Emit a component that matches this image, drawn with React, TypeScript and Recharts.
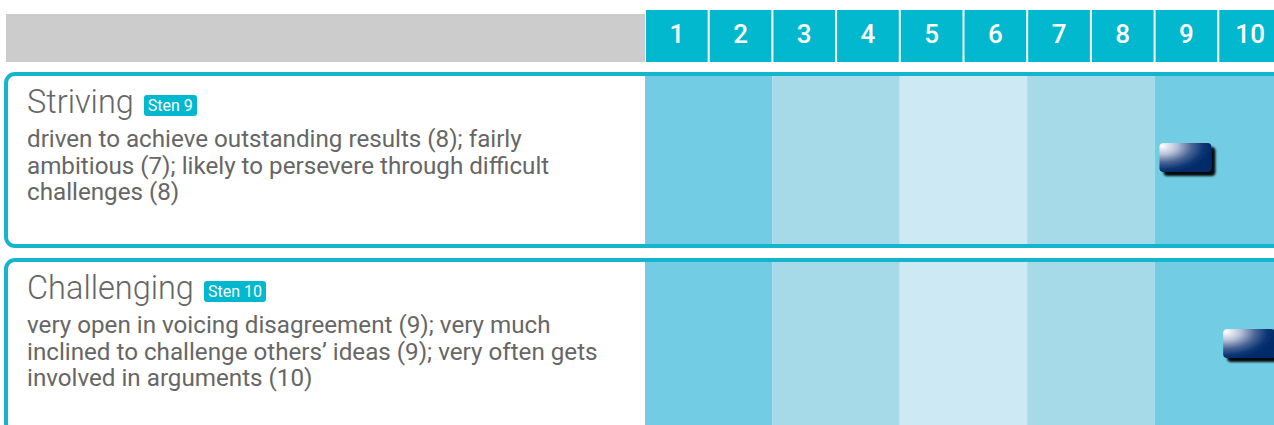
import {
  ComposedChart,
  ReferenceArea,
  Scatter,
  XAxis,
  YAxis,
} from "recharts";

// scales and rows
const stenTicks = [1, 2, 3, 4, 5, 6, 7, 8, 9, 10];
const scaleNames = ["Striving", "Challenging"];
const stenScores = [9, 10];
const descriptions = [
  [
    "driven to achieve outstanding results (8); fairly",
    "ambitious (7); likely to persevere through difficult",
    "challenges (8)",
  ],
  [
    "very open in voicing disagreement (9); very much",
    "inclined to challenge others\u2019 ideas (9); very often gets",
    "involved in arguments (10)",
  ],
];
const bandFrom = [0.5, 2.5, 4.5, 6.5, 8.5];
const bandTo = [2.5, 4.5, 6.5, 8.5, 10.5];
const bandColors = ["#72cde4", "#a6dae8", "#cdeaf4", "#a6dae8", "#72cde4"];

// each row owns [i, i + 1] on a hidden numeric y axis
const data = scaleNames.map((name, i) => ({
  name,
  sten: stenScores[i],
  row: i + 0.5,
  top: i,
  bottom: i + 1,
  lines: descriptions[i],
}));

const CHART_W = 1290;
const CHART_H = 444;
const MARGIN = { top: 10, right: 8, bottom: 0, left: 645 };
const AXIS_H = 62;
const TEAL = "#02b8ce";
const BORDER = "#13b6cd";
const TEXT = "#666666";
const FONT = "Roboto, 'Open Sans', sans-serif";
const CELL_W = (CHART_W - MARGIN.left - MARGIN.right) / stenTicks.length;
const ROW_GAP = 10;

type TickProps = {
  x?: number;
  y?: number;
  index?: number;
  payload?: { value: number };
};

function HeaderTick({ x = 0, index = 0, payload }: TickProps) {
  const left = x - CELL_W / 2 + 1;
  const top = MARGIN.top;
  const bottom = MARGIN.top + AXIS_H - 10;
  return (
    <g>
      {index === 0 && (
        <rect x={6} y={top + 4} width={left - 7} height={bottom - top - 4} fill="#cccccc" />
      )}
      <rect x={left} y={top} width={CELL_W - 2} height={bottom - top} fill={TEAL} />
      <text
        x={x}
        y={top + 33}
        textAnchor="middle"
        fill="#ffffff"
        fontSize={26}
        fontWeight={500}
        fontFamily={FONT}
      >
        {payload?.value}
      </text>
    </g>
  );
}

type AreaShapeProps = { x?: number; y?: number; width?: number; height?: number };

function makeRowPanel(row: (typeof data)[number]) {
  return function RowPanel({ x = 0, y = 0, width = 0, height = 0 }: AreaShapeProps) {
    const h = height - ROW_GAP;
    return (
      <g>
        <rect
          x={6}
          y={y + 2}
          width={x + width + 20}
          height={h - 4}
          rx={9}
          fill="#ffffff"
          stroke={BORDER}
          strokeWidth={4}
        />
        <foreignObject x={27} y={y + 10} width={x - 30} height={h - 14}>
          <div style={{ fontFamily: FONT, color: TEXT }}>
            <div style={{ display: "flex", alignItems: "baseline", height: 40 }}>
              <span style={{ fontSize: 32.5, lineHeight: "40px", fontWeight: 300 }}>
                {row.name}
              </span>
              <span
                style={{
                  marginLeft: 10,
                  background: TEAL,
                  color: "#ffffff",
                  fontSize: 16,
                  lineHeight: "21px",
                  padding: "0 4px",
                  borderRadius: 3,
                  position: "relative",
                  top: -2,
                }}
              >
                Sten {row.sten}
              </span>
            </div>
            <div style={{ marginTop: 4, fontSize: 24.2, lineHeight: "26.5px" }}>
              {row.lines.map((line) => (
                <div key={line} style={{ whiteSpace: "nowrap" }}>
                  {line}
                </div>
              ))}
            </div>
          </div>
        </foreignObject>
      </g>
    );
  };
}

function makeBand(fill: string) {
  return function Band({ x = 0, y = 0, width = 0, height = 0 }: AreaShapeProps) {
    return <rect x={x} y={y + 4} width={width} height={height - ROW_GAP - 8} fill={fill} />;
  };
}

type MarkerProps = { cx?: number; cy?: number };

function Marker({ cx = 0, cy = 0 }: MarkerProps) {
  return (
    <rect
      x={cx - 27}
      y={cy - 22}
      width={52}
      height={29}
      rx={4}
      fill="url(#stenMarkerFill)"
      filter="url(#stenMarkerShadow)"
    />
  );
}

export default function App() {
  return (
    <div
      style={{
        position: "absolute",
        left: 0,
        top: 0,
        width: 1274,
        height: 425,
        overflow: "hidden",
        background: "#ffffff",
      }}
    >
      <svg width={0} height={0} style={{ position: "absolute" }}>
        <defs>
          <radialGradient id="stenMarkerFill" cx="0.05" cy="0.1" r="0.95" fx="0.05" fy="0.1">
            <stop offset="0" stopColor="#ffffff" />
            <stop offset="0.3" stopColor="#b9c3d8" />
            <stop offset="0.6" stopColor="#4a6595" />
            <stop offset="0.85" stopColor="#0b3473" />
            <stop offset="1" stopColor="#002c69" />
          </radialGradient>
          <filter id="stenMarkerShadow" x="-20%" y="-20%" width="150%" height="160%">
            <feDropShadow dx={4} dy={4} stdDeviation={1.2} floodColor="#000000" floodOpacity={0.95} />
          </filter>
        </defs>
      </svg>
      <ComposedChart width={CHART_W} height={CHART_H} data={data} margin={MARGIN}>
        <XAxis
          type="number"
          dataKey="sten"
          orientation="top"
          domain={[0.5, 10.5]}
          ticks={stenTicks}
          height={AXIS_H}
          axisLine={false}
          tickLine={false}
          interval={0}
          tick={<HeaderTick />}
        />
        <YAxis
          type="number"
          dataKey="row"
          domain={[0, scaleNames.length]}
          reversed
          allowDataOverflow
          hide
        />
        {data.map((row) => (
          <ReferenceArea
            key={`panel-${row.name}`}
            y1={row.top}
            y2={row.bottom}
            ifOverflow="visible"
            shape={makeRowPanel(row)}
          />
        ))}
        {data.map((row) =>
          bandFrom.map((from, b) => (
            <ReferenceArea
              key={`band-${row.name}-${b}`}
              x1={from}
              x2={bandTo[b]}
              y1={row.top}
              y2={row.bottom}
              ifOverflow="visible"
              shape={makeBand(bandColors[b])}
            />
          )),
        )}
        <Scatter dataKey="row" shape={<Marker />} isAnimationActive={false} />
      </ComposedChart>
    </div>
  );
}
